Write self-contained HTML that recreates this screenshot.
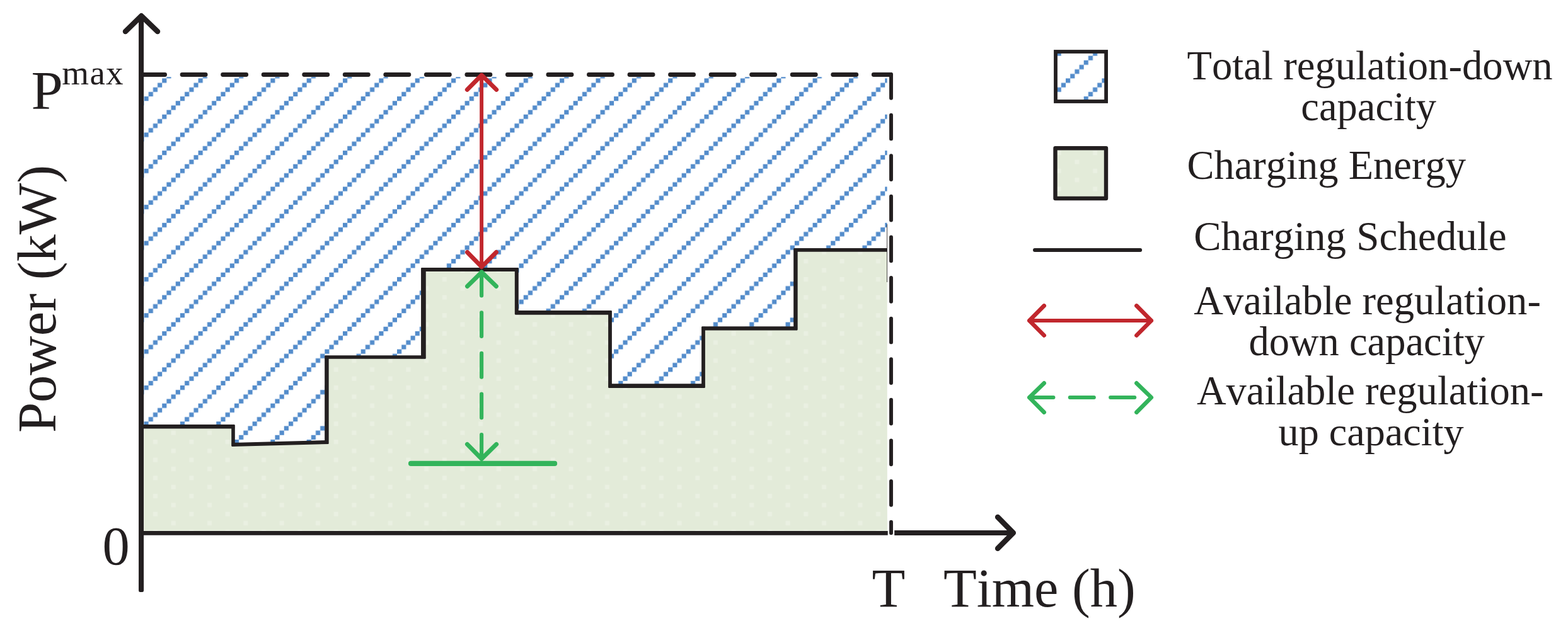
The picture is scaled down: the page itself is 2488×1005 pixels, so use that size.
<!DOCTYPE html>
<html lang="en"><head><meta charset="utf-8"><title>EV charging regulation capacity</title>
<style>
html,body{margin:0;padding:0;background:#fff;}
body{width:2488px;height:1005px;overflow:hidden;}
svg{display:block;}
</style></head><body>
<svg width="2488" height="1005" viewBox="0 0 2488 1005">
<defs>
<pattern id="hatch" patternUnits="userSpaceOnUse" x="228.540" y="95.748" width="57.352" height="57.352"><g fill="#538ccb"><rect x="0.000" y="0.000" width="7.169" height="7.169"/><rect x="7.169" y="50.183" width="7.169" height="7.169"/><rect x="14.338" y="43.014" width="7.169" height="7.169"/><rect x="21.507" y="35.845" width="7.169" height="7.169"/><rect x="28.676" y="28.676" width="7.169" height="7.169"/><rect x="35.845" y="21.507" width="7.169" height="7.169"/><rect x="43.014" y="14.338" width="7.169" height="7.169"/><rect x="50.183" y="7.169" width="7.169" height="7.169"/></g></pattern>
<pattern id="dots" patternUnits="userSpaceOnUse" x="228.540" y="95.748" width="57.352" height="57.352"><rect width="57.352" height="57.352" fill="#e3ebd9"/><g fill="#eaf0e2"><rect x="43.014" y="14.338" width="7.169" height="7.169"/><rect x="14.338" y="28.676" width="7.169" height="7.169"/><rect x="43.014" y="43.014" width="7.169" height="7.169"/><rect x="14.338" y="0.000" width="7.169" height="7.169"/></g></pattern>
</defs>
<rect width="2488" height="1005" fill="#fff"/>
<!-- hatched regulation-down region -->
<polygon points="228.5,122.2 1407.6,122.2 1407.6,396.95 1262.4,396.95 1262.4,521.3 1116,521.3 1116,612.6 968,612.6 968,496.3 819.8,496.3 819.8,428 671.9,428 671.9,567 518.4,567 518.4,702 370,705.9 370,677.3 224,677.3" fill="url(#hatch)"/>
<!-- green charging energy -->
<polygon points="228.4,677.3 370,677.3 370,705.9 518.4,702 518.4,567 671.9,567 671.9,428 819.8,428 819.8,496.3 968,496.3 968,612.6 1116,612.6 1116,521.3 1262.4,521.3 1262.4,396.95 1407.6,396.95 1407.9,842.8 228.4,842.8" fill="url(#dots)"/>
<line x1="1407.5" y1="356" x2="1407.5" y2="448" stroke="#231f20" stroke-width="0.8"/>
<!-- Pmax dashed -->
<path d="M224.5,118.5 H1413.4" fill="none" stroke="#231f20" stroke-width="6.8" stroke-linecap="round" stroke-dasharray="37.1 27.44"/>
<path d="M1414,118 V846.3" fill="none" stroke="#231f20" stroke-width="5.9" stroke-linecap="round" stroke-dasharray="37.8 26.8"/>
<!-- stairs -->
<g fill="none" stroke="#231f20"><line x1="224.00" y1="677.30" x2="372.20" y2="677.30" stroke-width="6.4"/><line x1="370.00" y1="674.70" x2="370.00" y2="708.30" stroke-width="5.6"/><line x1="367.80" y1="705.96" x2="521.05" y2="701.93" stroke-width="6"/><line x1="518.40" y1="704.40" x2="518.40" y2="564.80" stroke-width="6.5"/><line x1="515.75" y1="567.00" x2="675.15" y2="567.00" stroke-width="5.6"/><line x1="671.90" y1="569.20" x2="671.90" y2="425.60" stroke-width="7.7"/><line x1="668.65" y1="428.00" x2="822.20" y2="428.00" stroke-width="6"/><line x1="819.80" y1="425.60" x2="819.80" y2="499.05" stroke-width="6"/><line x1="817.40" y1="496.30" x2="970.30" y2="496.30" stroke-width="6.7"/><line x1="968.00" y1="493.55" x2="968.00" y2="615.40" stroke-width="5.8"/><line x1="965.70" y1="612.60" x2="1118.30" y2="612.60" stroke-width="6.8"/><line x1="1116.00" y1="615.40" x2="1116.00" y2="518.80" stroke-width="5.8"/><line x1="1113.70" y1="521.30" x2="1265.05" y2="521.30" stroke-width="6.2"/><line x1="1262.40" y1="523.80" x2="1262.40" y2="394.65" stroke-width="6.5"/><line x1="1259.75" y1="396.95" x2="1407.60" y2="396.95" stroke-width="5.8"/></g>
<!-- axes -->
<path d="M224.05,25.3 V937" fill="none" stroke="#231f20" stroke-width="8"/>
<rect x="220.05" y="920" width="8" height="19.9" rx="2.2" fill="#231f20"/>
<path d="M199,50 L224.3,25.2 L250,50" fill="none" stroke="#231f20" stroke-width="8.5" stroke-linecap="round" stroke-linejoin="round"/>
<path d="M224,846.4 H1408.7" fill="none" stroke="#231f20" stroke-width="6.9"/>
<path d="M1419.2,846 H1607" fill="none" stroke="#231f20" stroke-width="7.8"/>
<path d="M1583.1,821.1 L1607.8,846 L1583.1,870.7" fill="none" stroke="#231f20" stroke-width="8.5" stroke-linecap="round" stroke-linejoin="round"/>
<!-- red arrow -->
<g fill="none" stroke="#c1272d" stroke-linecap="round" stroke-linejoin="round">
<path d="M764.1,119.3 V423.6" stroke-width="5.9"/>
<path d="M741.3,142.4 L764.2,119.3 L787.7,142.4" stroke-width="6.9"/>
<path d="M741.5,400.5 L764.2,423.6 L787.4,400.5" stroke-width="6.9"/>
</g>
<!-- green arrow -->
<g fill="none" stroke="#33b45b" stroke-linecap="round" stroke-linejoin="round">
<path d="M764.1,431.6 V728.5" stroke-width="6.1" stroke-dasharray="37.8 26.83"/>
<path d="M741.5,454.5 L764.2,432.1 L787.4,454.5" stroke-width="6.9"/>
<path d="M741.4,705.3 L764.2,728.5 L787.7,705.3" stroke-width="6.9"/>
<path d="M652,735.9 H880.1" stroke-width="8.1"/>
</g>
<!-- legend -->
<rect x="1675" y="82" width="80.1" height="79" fill="url(#hatch)" stroke="#231f20" stroke-width="5.8"/>
<rect x="1674.5" y="235.3" width="80.5" height="79.7" fill="url(#dots)" stroke="#231f20" stroke-width="6.4" stroke-linejoin="round"/>
<path d="M1642,396.9 H1809.1" stroke="#231f20" stroke-width="6" stroke-linecap="round"/>
<g fill="none" stroke="#c1272d" stroke-linecap="round" stroke-linejoin="round">
<path d="M1633.3,509 H1826.8" stroke-width="5.8"/>
<path d="M1656.7,485.4 L1633.3,509 L1656.7,532.5" stroke-width="6.6"/>
<path d="M1803.4,485.4 L1826.8,509 L1803.4,532.5" stroke-width="6.6"/>
</g>
<g fill="none" stroke="#33b45b" stroke-linecap="round" stroke-linejoin="round">
<path d="M1633.3,631 H1810" stroke-width="5.9" stroke-dasharray="38.2 26.2"/>
<path d="M1656.7,608.3 L1633.3,631 L1656.7,654.6" stroke-width="6.6"/>
<path d="M1803.4,608.3 L1826.8,631 L1803.4,654.6" stroke-width="6.6"/>
</g>
<!-- text -->
<g font-family="'Liberation Serif', 'Times New Roman', serif" fill="#231f20" style="font-kerning:none">
<text transform="translate(49.6,172.5) scale(1.05,1)" font-size="86.3">P</text>
<text x="98.3" y="134" font-size="55" text-anchor="start" letter-spacing="1.3" >max</text>
<text x="162.5" y="896" font-size="86.5" text-anchor="start" letter-spacing="0" >0</text>
<text transform="translate(88.3,687) rotate(-90)" font-size="86.5">Power (kW)</text>
<text x="1383.5" y="962.6" font-size="86.5" text-anchor="start" letter-spacing="0" >T</text>
<text x="1496.9" y="962.6" font-size="86.45" text-anchor="start" letter-spacing="0" >Time (h)</text>
<text x="2173.6" y="126.3" font-size="64.7" text-anchor="middle" letter-spacing="0" >Total regulation-down</text>
<text x="2171.7" y="190.6" font-size="64.5" text-anchor="middle" letter-spacing="0" >capacity</text>
<text x="2104.7" y="283.9" font-size="64.5" text-anchor="middle" letter-spacing="0" >Charging Energy</text>
<text x="2142.4" y="397.2" font-size="65" text-anchor="middle" letter-spacing="0" >Charging Schedule</text>
<text x="2169.6" y="498.7" font-size="64.6" text-anchor="middle" letter-spacing="0" >Available regulation-</text>
<text x="2168.7" y="564.2" font-size="64.5" text-anchor="middle" letter-spacing="0" >down capacity</text>
<text x="2174.2" y="641.8" font-size="64.6" text-anchor="middle" letter-spacing="0" >Available regulation-</text>
<text x="2175.6" y="706.5" font-size="64.2" text-anchor="middle" letter-spacing="0" >up capacity</text>
</g>
</svg>
</body></html>
